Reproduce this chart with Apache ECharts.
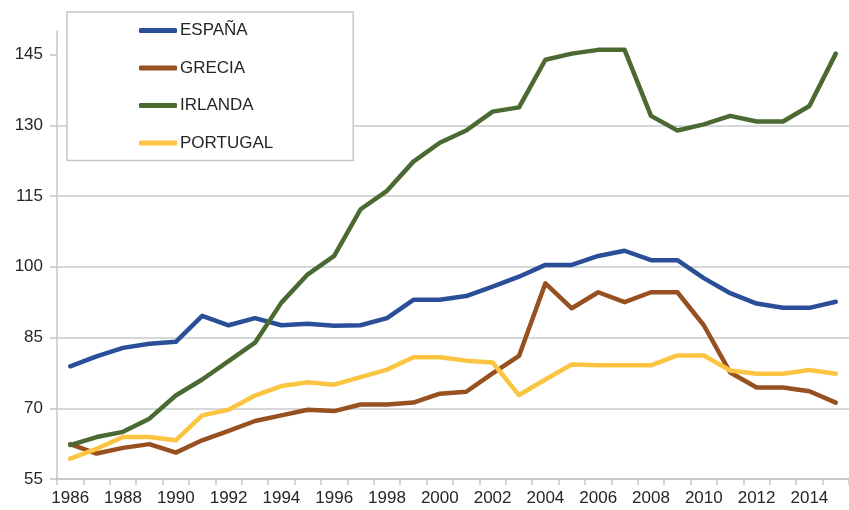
<!DOCTYPE html>
<html>
<head>
<meta charset="utf-8">
<script src="https://cdn.jsdelivr.net/npm/echarts@6/dist/echarts.min.js"></script>
<style>
html, body { margin: 0; padding: 0; background: #fff; }
#chart { width: 849px; height: 510px; }
</style>
</head>
<body>
<div id="chart"></div>
<script>
// años 1986 - 2015
var years = [];
for (var y = 1986; y <= 2015; y++) years.push(String(y));

var espana = [78.9, 81.0, 82.8, 83.7, 84.1, 89.6, 87.6, 89.1, 87.6, 87.9, 87.5, 87.6, 89.1, 93.0, 93.0, 93.8, 95.8, 97.9, 100.4, 100.4, 102.3, 103.4, 101.4, 101.4, 97.6, 94.4, 92.2, 91.3, 91.3, 92.6];
var grecia = [62.4, 60.4, 61.6, 62.4, 60.6, 63.2, 65.2, 67.3, 68.5, 69.7, 69.4, 70.8, 70.8, 71.2, 73.1, 73.5, 77.4, 81.1, 96.5, 91.2, 94.6, 92.5, 94.6, 94.6, 87.6, 77.6, 74.4, 74.4, 73.6, 71.2];
var irlanda = [62.2, 63.9, 65.0, 67.8, 72.7, 76.1, 80.0, 83.9, 92.4, 98.4, 102.3, 112.2, 116.1, 122.3, 126.3, 128.9, 132.9, 133.8, 143.9, 145.2, 146.0, 146.0, 132.0, 128.9, 130.2, 132.0, 130.8, 130.8, 134.1, 145.2];
var portugal = [59.3, 61.4, 63.9, 63.9, 63.2, 68.5, 69.7, 72.7, 74.7, 75.5, 75.0, 76.6, 78.2, 80.8, 80.8, 80.1, 79.7, 72.8, 76.1, 79.3, 79.1, 79.1, 79.1, 81.2, 81.2, 78.0, 77.3, 77.3, 78.1, 77.3];

var yTicks = [55, 70, 85, 100, 115, 130, 145];

var names = ['ESPAÑA', 'GRECIA', 'IRLANDA', 'PORTUGAL'];
var colors = ['#2b4e99', '#97501f', '#4a6a32', '#fbc441'];
var values = [espana, grecia, irlanda, portugal];

var myChart = echarts.init(document.getElementById('chart'));

var series = names.map(function (n, i) {
    return {
        name: n,
        type: 'line',
        data: values[i],
        symbol: 'none',
        lineStyle: { width: 4.5, color: colors[i], cap: 'round', join: 'round' },
        itemStyle: { color: colors[i] }
    };
});

var option = {
    animation: false,
    textStyle: { fontFamily: 'Liberation Sans, Arial, sans-serif' },
    legend: {
        orient: 'vertical',
        left: 67,
        top: 12,
        data: names,
        icon: 'roundRect',
        itemWidth: 38,
        itemHeight: 5,
        itemGap: 20.5,
        padding: [10, 80, 9, 72],
        backgroundColor: '#fff',
        borderColor: '#c4c6c8',
        borderWidth: 1.5,
        borderRadius: 0,
        textStyle: { fontSize: 17, color: '#262626', lineHeight: 17, padding: [0, 0, 0, -2] }
    },
    grid: {
        left: 57,
        top: 31,
        width: 799,
        height: 448
    },
    xAxis: {
        type: 'category',
        data: years,
        boundaryGap: true,
        axisLine: { show: true, lineStyle: { color: '#c4c6c8', width: 1.5 } },
        axisTick: { show: true, interval: 0, length: 6, lineStyle: { color: '#c4c6c8', width: 1.5 } },
        axisLabel: { interval: 1, fontSize: 17, color: '#262626', margin: 11 },
        splitLine: { show: false }
    },
    yAxis: {
        type: 'value',
        min: 55,
        max: 150,
        interval: 15,
        axisLine: { show: true, lineStyle: { color: '#c4c6c8', width: 1.5 } },
        axisTick: { show: true, length: 7, customValues: yTicks, lineStyle: { color: '#c4c6c8', width: 1.5 } },
        axisLabel: { fontSize: 17, color: '#262626', margin: 14, customValues: yTicks },
        splitLine: { show: true, showMaxLine: false, lineStyle: { color: '#c8cacc', width: 1.5 } }
    },
    series: series
};
myChart.setOption(option);
</script>
</body>
</html>
